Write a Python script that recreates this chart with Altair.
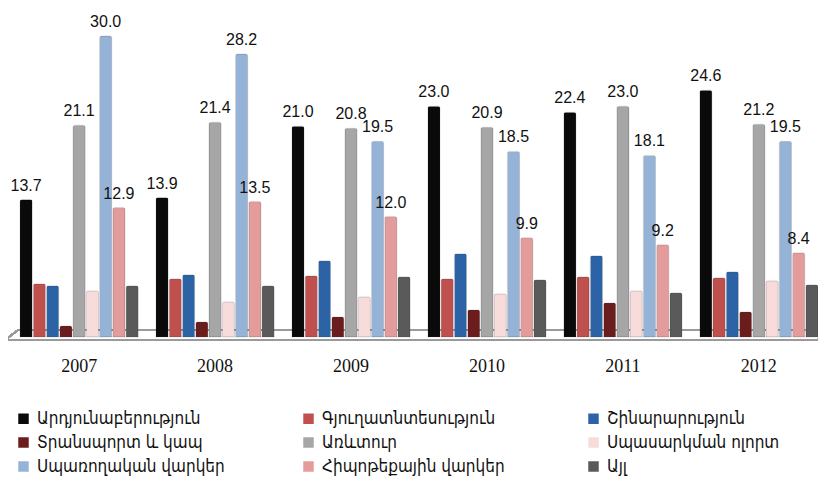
import altair as alt
import pandas as pd

years = ["2007", "2008", "2009", "2010", "2011", "2012"]
series = [
    "Արդյունաբերություն",
    "Գյուղատնտեսություն",
    "Շինարարություն",
    "Տրանսպորտ և կապ",
    "Առևտուր",
    "Սպասարկման ոլորտ",
    "Սպառողական վարկեր",
    "Հիպոթեքային վարկեր",
    "Այլ",
]
colors = ["#0a0a0a", "#C0504D", "#2C62A6", "#6B1C1C", "#A6A6A6",
          "#F8DCDC", "#95B3D7", "#E39B9B", "#5A5A5A"]

industry = [13.7, 13.9, 21.0, 23.0, 22.4, 24.6]
agriculture = [5.3, 5.8, 6.1, 5.8, 6.0, 5.9]
construction = [5.1, 6.2, 7.6, 8.3, 8.1, 6.5]
transport = [1.1, 1.5, 2.0, 2.7, 3.4, 2.5]
trade = [21.1, 21.4, 20.8, 20.9, 23.0, 21.2]
services = [4.6, 3.5, 4.0, 4.3, 4.6, 5.6]
consumer = [30.0, 28.2, 19.5, 18.5, 18.1, 19.5]
mortgage = [12.9, 13.5, 12.0, 9.9, 9.2, 8.4]
other = [5.1, 5.1, 6.0, 5.7, 4.4, 5.2]

labelled = {series[0], series[4], series[6], series[7]}

values = [industry, agriculture, construction, transport, trade,
          services, consumer, mortgage, other]
rows = []
for s, vals in zip(series, values):
    for y, v in zip(years, vals):
        rows.append({"year": y, "series": s, "value": v,
                     "label": f"{v:.1f}" if s in labelled else ""})
df = pd.DataFrame(rows)

W, H = 798, 305

x_enc = alt.X("year:N", sort=years,
              scale=alt.Scale(paddingInner=0.13, paddingOuter=0.0),
              axis=alt.Axis(title=None, labelAngle=0, domain=False, ticks=False,
                            labelFont="Liberation Serif", labelFontSize=18,
                            labelColor="#111", labelPadding=20))
xo_enc = alt.XOffset("series:N", sort=series, scale=alt.Scale(paddingInner=0.08))
y_enc = alt.Y("value:Q", scale=alt.Scale(domain=[0, 30.4]), axis=None)

base = alt.Chart(df)

floor_back = alt.Chart(df).mark_rule(color="#9a9a9a", strokeWidth=1.5).encode(
    x=alt.value(-2), x2=alt.value(806), y=alt.value(H - 7))
floor_front = alt.Chart(df).mark_rule(color="#9a9a9a", strokeWidth=1.5).encode(
    x=alt.value(-15), x2=alt.value(798), y=alt.value(H + 3))
floor_left = alt.Chart(df).mark_rule(color="#9a9a9a", strokeWidth=1.5).encode(
    x=alt.value(-15), x2=alt.value(-2), y=alt.value(H + 3), y2=alt.value(H - 7))
floor_right = alt.Chart(df).mark_rule(color="#9a9a9a", strokeWidth=1.5).encode(
    x=alt.value(798), x2=alt.value(806), y=alt.value(H + 3), y2=alt.value(H - 7))

bars = base.mark_bar(cornerRadiusTopLeft=2, cornerRadiusTopRight=2,
                     stroke="#333", strokeWidth=0.3, strokeOpacity=0.5).encode(
    x=x_enc, xOffset=xo_enc, y=y_enc,
    color=alt.Color("series:N", sort=series,
                    scale=alt.Scale(domain=series, range=colors),
                    legend=alt.Legend(
                        title=None, orient="none", legendX=-5, legendY=378,
                        columns=3, direction="horizontal", gridAlign="all",
                        symbolType="square", symbolSize=110, symbolStrokeWidth=0,
                        labelFont="DejaVu Sans Condensed, DejaVu Sans",
                        labelFontSize=17, labelColor="#111", labelLimit=300,
                        columnPadding=75, rowPadding=6, symbolOffset=0,
                        labelOffset=5)),
)

texts = base.transform_filter(alt.datum.label != "").mark_text(
    baseline="bottom", dy=-6, font="Liberation Sans", fontSize=16,
    color="#111").encode(
    x=x_enc, xOffset=xo_enc, y=y_enc, text="label:N")

chart = alt.layer(floor_back, floor_left, floor_right, bars, floor_front, texts).properties(
    width=W, height=H,
    autosize=alt.AutoSizeParams(type="none"),
    padding={"left": 12, "top": 24, "right": 0, "bottom": 145},
).configure(background="white", view=alt.ViewConfig(stroke=None))

chart.save("out.html", embed_options={"renderer": "svg", "actions": False})
